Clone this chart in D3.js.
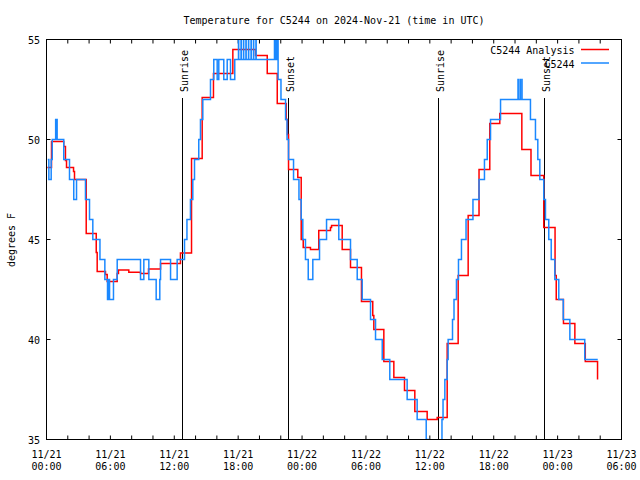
<!DOCTYPE html>
<html><head><meta charset="utf-8">
<script src="https://cdn.jsdelivr.net/npm/d3@7"></script>
<style>body{margin:0;background:#fff}svg{display:block}text{font-family:"DejaVu Sans Mono",monospace;font-size:10px;fill:#000}</style>
</head><body>
<svg id="c" width="640" height="480"></svg>
<script>
const chartTitle = "Temperature for C5244 on 2024-Nov-21 (time in UTC)";
const yLabel = "degrees F";
const seriesNames = ["C5244 Analysis", "C5244"];
const seriesColors = ["#ff0000", "#1a88ff"];
const startUTC = Date.UTC(2024, 10, 21, 0, 0);

// hours since 2024-11-21 00:00 UTC
const analysisHours = [0.08,0.47,1.62,1.78,1.88,2.54,2.63,3.73,4.67,4.76,5.54,5.70,6.64,6.76,7.73,8.83,9.58,10.71,12.58,13.62,14.62,15.68,17.50,19.63,20.73,21.67,22.51,22.63,22.73,23.60,23.92,24.11,24.79,25.57,26.67,26.77,27.77,28.55,29.58,30.64,30.74,31.68,32.62,33.62,34.59,35.75,36.69,37.63,38.66,39.60,40.62,41.63,42.57,44.64,45.50,46.70,47.76,47.87,48.55,49.62,50.60,51.75];
const analysisTemps = [48.6,49.9,49.65,48.95,48.6,48.4,48.0,45.3,44.35,43.4,43.25,42.9,43.3,43.47,43.36,43.3,43.53,43.8,44.33,49.05,52.1,53.3,54.5,54.2,53.3,51.8,51.0,50.25,48.5,48.1,45.0,44.6,44.5,45.45,45.6,45.7,44.5,43.6,41.9,41.2,40.5,38.9,38.1,37.45,36.4,36.0,36.1,39.8,43.2,46.2,48.5,50.8,51.3,49.5,48.2,45.6,43.2,42.0,40.8,39.8,38.9,38.0];

const obsHours = [0.12,0.22,0.44,0.54,0.86,1.00,1.62,2.16,2.56,2.82,3.66,4.04,4.35,5.02,5.48,5.73,5.85,5.92,6.29,6.64,8.83,9.14,9.61,10.30,10.64,10.71,11.65,12.27,12.96,13.19,13.52,13.74,13.90,14.30,14.46,14.68,15.40,15.71,16.03,16.18,16.65,16.97,17.28,17.68,
  18.03,18.05,18.27,18.29,18.50,18.52,18.73,18.75,18.97,18.99,19.21,19.23,19.44,19.46,19.67,19.69,
  21.41,21.43,21.57,21.59,21.72,21.75,22.02,22.45,22.59,22.73,23.20,23.71,23.92,24.07,24.32,24.58,25.01,25.64,26.30,27.45,28.55,29.18,29.65,30.43,30.90,31.53,32.24,33.87,34.81,35.66,35.92,37.14,37.24,37.41,37.63,37.72,38.13,38.27,38.50,38.69,38.97,39.40,40.05,40.62,41.13,41.39,41.70,42.64,
  44.28,44.30,44.47,44.49,44.64,44.66,45.45,45.92,46.14,46.33,46.70,46.86,47.17,47.40,47.74,48.11,48.53,49.15,50.55,51.77];
const obsTemps = [49,48,49,50,51,50,49,48,47,48,47,46,45,44,43,42,43,42,43,44,43,44,43,42,43,44,43,44,45,46,47,48,49,50,51,52,53,54,53,54,53,54,53,54,
  55,54,55,54,55,54,55,54,55,54,55,54,55,54,55,54,
  55,54,55,54,55,53,52,51,50,49,48,47,46,45,44,43,44,45,46,45,44,43,42,41,40,39,38,37,36,35,34,36,37,38,39,40,41,42,43,44,45,46,47,48,49,50,51,52,
  53,52,53,52,53,52,51,50,49,48,47,46,45,44,43,42,41,40,39,39];

const sunLabels = ["Sunrise", "Sunset", "Sunrise", "Sunset"];
const sunHours = [12.76, 22.66, 36.72, 46.75];

const yTicks = [35, 40, 45, 50, 55];
const xLabelHours = [0, 6, 12, 18, 24, 30, 36, 42, 48, 54];
const xTickHours = d3.range(0, 55, 2);

const toDate = h => new Date(startUTC + h * 3600000);
const L = 46.5, R = 621.5, T = 39.5, B = 439.5;

const svg = d3.select("#c");
const x = d3.scaleUtc().domain([toDate(0), toDate(54)]).range([L, R]);
const y = d3.scaleLinear().domain([35, 55]).range([B, T]);

svg.append("defs").append("clipPath").attr("id", "plot")
  .append("rect").attr("x", L).attr("y", T).attr("width", R - L).attr("height", B - T);

// title
svg.append("text").attr("x", (L + R) / 2).attr("y", 24).attr("text-anchor", "middle").text(chartTitle);

// y label
svg.append("text").attr("transform", "translate(14.5,240) rotate(-90)")
  .attr("text-anchor", "middle").text(yLabel);

// axes ticks
const noDomain = g => g.select(".domain").remove();
svg.append("g").attr("transform", `translate(0,${B})`)
  .call(d3.axisBottom(x).tickValues(xTickHours.map(toDate)).tickSize(-4).tickSizeOuter(0).tickFormat("").offset(0))
  .call(noDomain);
svg.append("g").attr("transform", `translate(0,${T})`)
  .call(d3.axisTop(x).tickValues(xTickHours.map(toDate)).tickSize(-4).tickSizeOuter(0).tickFormat("").offset(0))
  .call(noDomain);
svg.append("g").attr("transform", `translate(${L},0)`)
  .call(d3.axisLeft(y).tickValues(yTicks).tickSize(-4).tickSizeOuter(0).tickFormat("").offset(0))
  .call(noDomain);
svg.append("g").attr("transform", `translate(${R},0)`)
  .call(d3.axisRight(y).tickValues(yTicks).tickSize(-4).tickSizeOuter(0).tickFormat("").offset(0))
  .call(noDomain);
svg.selectAll(".tick line").attr("stroke", "#000");

// y tick labels
svg.append("g").selectAll("text").data(yTicks).join("text")
  .attr("x", 40).attr("y", d => y(d) + 4).attr("text-anchor", "end").text(d => d);

// x tick labels
const fDate = d3.utcFormat("%m/%d"), fTime = d3.utcFormat("%H:%M");
const xl = svg.append("g").selectAll("g").data(xLabelHours.map(toDate)).join("g");
xl.append("text").attr("x", d => x(d)).attr("y", 458).attr("text-anchor", "middle").text(d => fDate(d));
xl.append("text").attr("x", d => x(d)).attr("y", 470).attr("text-anchor", "middle").text(d => fTime(d));

// sunrise / sunset lines
const sun = svg.append("g");
sunHours.forEach((h, i) => {
  const sx = Math.round(x(toDate(h))) + 0.5;
  sun.append("line").attr("x1", sx).attr("x2", sx).attr("y1", 98).attr("y2", B)
    .attr("stroke", "#000").attr("stroke-width", 1);
  sun.append("text").attr("transform", `translate(${sx + 5},92) rotate(-90)`)
    .attr("text-anchor", "start").text(sunLabels[i]);
});

// series
const line = d3.line().curve(d3.curveStepAfter).x(d => x(toDate(d[0]))).y(d => y(d[1]));
const plot = svg.append("g").attr("clip-path", "url(#plot)");
const analysis = analysisHours.map((h, i) => [h, analysisTemps[i]]);
const obs = obsHours.map((h, i) => [h, obsTemps[i]]);
plot.append("path").datum(analysis).attr("d", line).attr("fill", "none")
  .attr("stroke", seriesColors[0]).attr("stroke-width", 1.5);
plot.append("path").datum(obs).attr("d", line).attr("fill", "none")
  .attr("stroke", seriesColors[1]).attr("stroke-width", 1.5);

// frame
svg.append("rect").attr("x", L).attr("y", T).attr("width", R - L).attr("height", B - T)
  .attr("fill", "none").attr("stroke", "#000").attr("stroke-width", 1);

// legend
const legY = [49.5, 63];
seriesNames.forEach((n, i) => {
  svg.append("text").attr("x", 574.5).attr("y", legY[i] + 4.5).attr("text-anchor", "end").text(n);
  svg.append("line").attr("x1", 581).attr("x2", 609).attr("y1", legY[i]).attr("y2", legY[i])
    .attr("stroke", seriesColors[i]).attr("stroke-width", 1.5);
});
</script>
</body></html>
